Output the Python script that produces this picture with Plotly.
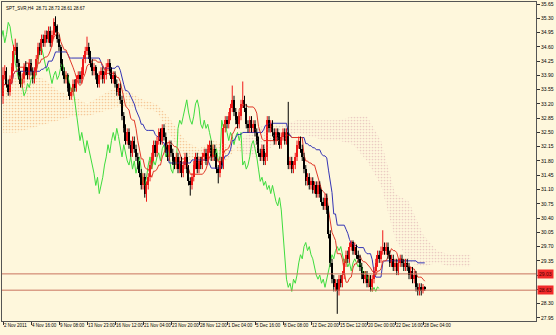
import plotly.graph_objects as go
import pandas as pd

title_text = "SPT_SVR,H4  28.71 28.73 28.61 28.67"
x_labels = ["2 Nov 2011", "4 Nov 16:00", "9 Nov 08:00", "13 Nov 23:00", "16 Nov 12:00",
            "21 Nov 04:00", "23 Nov 20:00", "28 Nov 12:00", "1 Dec 04:00", "5 Dec 16:00",
            "8 Dec 08:00", "12 Dec 20:00", "15 Dec 12:00", "20 Dec 00:00", "22 Dec 16:00",
            "28 Dec 04:00"]
bars_per_label = 16
y_ticks = [27.95, 28.30, 28.65, 29.00, 29.35, 29.70, 30.05, 30.40, 30.75, 31.10, 31.45,
           31.80, 32.15, 32.50, 32.85, 33.20, 33.55, 33.90, 34.25, 34.60, 34.95, 35.30, 35.65]
y_ticktext = ["27.95", "28.30", "", "", "29.35", "29.70", "30.05", "30.40", "30.75", "31.10",
              "31.45", "31.80", "32.15", "32.50", "32.85", "33.20", "33.55", "33.90", "34.25",
              "34.60", "34.95", "35.30", "35.65"]
hline_levels = [29.03, 28.63]

opens = [
    33.40, 33.90, 34.00, 33.70, 33.50, 33.80, 34.10, 34.50, 34.60, 34.20,
    33.90, 33.70, 33.80, 34.10, 34.00, 33.90, 34.20, 34.00, 33.80, 34.00,
    34.30, 34.60, 34.50, 34.80, 34.70, 34.90, 34.80, 35.00, 34.70, 34.90,
    35.20, 35.10, 34.80, 34.60, 34.20, 34.00, 33.80, 33.90, 33.60, 33.40,
    33.50, 33.70, 33.60, 33.80, 33.90, 33.80, 34.00, 34.30, 34.50, 34.60,
    34.40, 34.20, 34.00, 34.10, 33.90, 33.70, 33.90, 34.00, 33.80, 33.90,
    34.10, 34.20, 34.00, 33.80, 33.90, 33.70, 33.50, 33.60, 33.30, 32.90,
    32.60, 32.30, 32.50, 32.20, 32.00, 32.30, 32.10, 31.90, 31.70, 31.50,
    31.20, 31.40, 31.00, 31.20, 31.40, 31.70, 31.90, 32.20, 32.00, 32.30,
    32.50, 32.30, 32.60, 32.40, 32.10, 31.90, 32.20, 32.00, 31.80, 31.70,
    31.90, 31.60, 31.80, 31.50, 31.70, 31.90, 31.60, 31.30, 31.20, 31.40,
    31.70, 31.90, 31.60, 31.80, 31.70, 31.90, 32.00, 31.80, 32.10, 32.20,
    31.90, 32.10, 31.90, 31.60, 31.50, 31.80, 31.70, 32.60, 32.80, 32.70,
    32.90, 33.10, 33.30, 33.00, 32.80, 32.70, 32.90, 33.20, 33.30, 33.10,
    32.70, 32.60, 32.80, 32.60, 32.70, 32.50, 32.30, 32.00, 31.90, 32.10,
    31.80, 31.90, 32.80, 32.60, 32.70, 32.50, 32.30, 32.50, 32.40, 32.20,
    32.40, 32.50, 32.30, 32.50, 31.70, 31.80, 31.60, 31.70, 31.90, 32.20,
    32.30, 32.10, 31.90, 31.60, 31.30, 31.40, 31.20, 31.30, 31.10, 31.20,
    31.00, 31.20, 31.00, 30.80, 30.70, 30.90, 30.60, 30.00, 29.30, 28.90,
    28.70, 28.80, 28.60, 28.90, 28.80, 29.00, 29.30, 29.50, 29.40, 29.70,
    29.80, 29.60, 29.70, 29.50, 29.40, 29.20, 29.00, 28.90, 29.00, 28.80,
    28.90, 28.70, 28.90, 29.10, 29.30, 29.50, 29.40, 29.60, 29.70, 29.60,
    29.70, 29.50, 29.30, 29.40, 29.20, 29.30, 29.10, 29.30, 29.40, 29.30,
    29.20, 29.30, 29.20, 29.00, 29.10, 28.90, 29.00, 28.70, 28.60, 28.70,
    28.60, 28.71]
highs = [
    34.10, 34.15, 34.10, 33.80, 33.90, 34.20, 34.65, 34.80, 34.70, 34.30,
    34.00, 33.95, 34.20, 34.25, 34.10, 34.30, 34.30, 34.10, 34.10, 34.40,
    34.70, 34.70, 34.90, 34.90, 35.00, 35.00, 35.10, 35.10, 35.00, 35.30,
    35.35, 35.15, 34.90, 34.65, 34.30, 34.10, 34.00, 33.95, 33.70, 33.60,
    33.80, 33.80, 33.90, 34.00, 34.00, 34.10, 34.40, 34.60, 34.85, 34.70,
    34.50, 34.30, 34.20, 34.15, 33.95, 34.00, 34.10, 34.10, 34.00, 34.20,
    34.30, 34.30, 34.10, 34.00, 34.00, 33.80, 33.70, 33.70, 33.40, 33.00,
    32.70, 32.60, 32.60, 32.30, 32.40, 32.40, 32.20, 32.00, 31.80, 31.60,
    31.50, 31.50, 31.30, 31.50, 31.80, 32.00, 32.30, 32.30, 32.40, 32.60,
    32.60, 32.70, 32.70, 32.50, 32.20, 32.30, 32.30, 32.10, 31.90, 32.00,
    32.00, 31.90, 31.90, 31.80, 32.00, 32.00, 31.70, 31.40, 31.50, 31.80,
    32.00, 32.00, 31.90, 31.90, 32.00, 32.10, 32.10, 32.20, 32.30, 32.30,
    32.20, 32.20, 32.00, 31.70, 31.90, 31.90, 32.70, 32.90, 32.90, 33.00,
    33.20, 33.65, 33.40, 33.10, 32.90, 33.00, 33.30, 33.75, 33.40, 33.20,
    32.80, 32.90, 32.90, 32.80, 32.80, 32.60, 32.40, 32.10, 32.20, 32.20,
    32.00, 32.90, 32.90, 32.80, 32.80, 32.60, 32.60, 32.60, 32.50, 32.50,
    32.60, 32.60, 32.60, 33.25, 31.90, 31.90, 31.80, 32.00, 32.30, 32.40,
    32.40, 32.20, 32.00, 31.70, 31.50, 31.50, 31.40, 31.40, 31.30, 31.30,
    31.30, 31.30, 31.10, 30.90, 31.00, 31.00, 30.70, 30.10, 29.40, 29.00,
    28.90, 28.90, 29.00, 29.00, 29.10, 29.40, 29.60, 29.60, 29.80, 29.85,
    29.85, 29.80, 29.75, 29.60, 29.50, 29.30, 29.10, 29.10, 29.10, 29.00,
    29.00, 29.00, 29.20, 29.40, 29.60, 29.60, 29.70, 30.10, 29.80, 29.80,
    29.80, 29.60, 29.50, 29.50, 29.40, 29.40, 29.40, 29.50, 29.50, 29.40,
    29.40, 29.40, 29.30, 29.20, 29.20, 29.10, 29.10, 28.80, 28.80, 28.80,
    28.78, 28.73]
lows = [
    33.20, 33.80, 33.60, 33.40, 33.40, 33.70, 34.00, 34.40, 34.10, 33.80,
    33.60, 33.60, 33.70, 33.90, 33.80, 33.80, 33.90, 33.70, 33.70, 33.90,
    34.20, 34.40, 34.40, 34.60, 34.60, 34.70, 34.70, 34.60, 34.60, 34.80,
    34.95, 34.70, 34.50, 34.10, 33.90, 33.70, 33.70, 33.50, 33.30, 33.30,
    33.40, 33.50, 33.50, 33.70, 33.70, 33.70, 33.90, 34.20, 34.40, 34.30,
    34.10, 33.90, 33.90, 33.80, 33.60, 33.60, 33.80, 33.70, 33.70, 33.80,
    34.00, 33.90, 33.70, 33.70, 33.60, 33.40, 33.40, 33.20, 32.80, 32.50,
    32.20, 32.20, 32.10, 31.90, 31.90, 32.00, 31.80, 31.60, 31.40, 31.10,
    31.10, 30.90, 30.80, 31.10, 31.30, 31.60, 31.80, 31.90, 31.90, 32.20,
    32.20, 32.20, 32.30, 32.00, 31.80, 31.80, 31.90, 31.70, 31.60, 31.60,
    31.50, 31.50, 31.40, 31.40, 31.60, 31.50, 31.20, 30.95, 31.10, 31.30,
    31.60, 31.50, 31.50, 31.60, 31.60, 31.80, 31.70, 31.70, 32.00, 31.80,
    31.80, 31.80, 31.50, 31.25, 31.40, 31.60, 31.60, 32.50, 32.60, 32.60,
    32.80, 33.00, 32.90, 32.70, 32.60, 32.60, 32.80, 33.10, 33.00, 32.60,
    32.50, 32.50, 32.50, 32.50, 32.40, 32.20, 31.90, 31.80, 31.80, 31.70,
    31.70, 31.80, 32.50, 32.50, 32.40, 32.20, 32.20, 32.30, 32.10, 32.10,
    32.30, 32.20, 32.20, 31.60, 31.60, 31.50, 31.50, 31.60, 31.80, 32.10,
    32.00, 31.80, 31.50, 31.20, 31.20, 31.10, 31.10, 31.00, 31.00, 30.90,
    30.90, 30.90, 30.70, 30.60, 30.60, 30.50, 29.90, 29.20, 28.80, 28.60,
    28.60, 28.05, 28.50, 28.70, 28.70, 28.90, 29.20, 29.30, 29.30, 29.60,
    29.50, 29.50, 29.40, 29.30, 29.10, 28.90, 28.80, 28.80, 28.70, 28.70,
    28.60, 28.60, 28.80, 29.00, 29.20, 29.30, 29.30, 29.50, 29.50, 29.50,
    29.40, 29.20, 29.20, 29.10, 29.10, 29.00, 29.00, 29.20, 29.20, 29.10,
    29.10, 29.10, 28.90, 28.90, 28.80, 28.80, 28.60, 28.50, 28.50, 28.50,
    28.55, 28.61]
closes = [
    33.90, 34.00, 33.70, 33.50, 33.80, 34.10, 34.50, 34.60, 34.20, 33.90,
    33.70, 33.80, 34.10, 34.00, 33.90, 34.20, 34.00, 33.80, 34.00, 34.30,
    34.60, 34.50, 34.80, 34.70, 34.90, 34.80, 35.00, 34.70, 34.90, 35.20,
    35.10, 34.80, 34.60, 34.20, 34.00, 33.80, 33.90, 33.60, 33.40, 33.50,
    33.70, 33.60, 33.80, 33.90, 33.80, 34.00, 34.30, 34.50, 34.60, 34.40,
    34.20, 34.00, 34.10, 33.90, 33.70, 33.90, 34.00, 33.80, 33.90, 34.10,
    34.20, 34.00, 33.80, 33.90, 33.70, 33.50, 33.60, 33.30, 32.90, 32.60,
    32.30, 32.50, 32.20, 32.00, 32.30, 32.10, 31.90, 31.70, 31.50, 31.20,
    31.40, 31.00, 31.20, 31.40, 31.70, 31.90, 32.20, 32.00, 32.30, 32.50,
    32.30, 32.60, 32.40, 32.10, 31.90, 32.20, 32.00, 31.80, 31.70, 31.90,
    31.60, 31.80, 31.50, 31.70, 31.90, 31.60, 31.30, 31.20, 31.40, 31.70,
    31.90, 31.60, 31.80, 31.70, 31.90, 32.00, 31.80, 32.10, 32.20, 31.90,
    32.10, 31.90, 31.60, 31.50, 31.80, 31.70, 32.60, 32.80, 32.70, 32.90,
    33.10, 33.30, 33.00, 32.80, 32.70, 32.90, 33.20, 33.30, 33.10, 32.70,
    32.60, 32.80, 32.60, 32.70, 32.50, 32.30, 32.00, 31.90, 32.10, 31.80,
    31.90, 32.80, 32.60, 32.70, 32.50, 32.30, 32.50, 32.40, 32.20, 32.40,
    32.50, 32.30, 32.50, 31.70, 31.80, 31.60, 31.70, 31.90, 32.20, 32.30,
    32.10, 31.90, 31.60, 31.30, 31.40, 31.20, 31.30, 31.10, 31.20, 31.00,
    31.20, 31.00, 30.80, 30.70, 30.90, 30.60, 30.00, 29.30, 28.90, 28.70,
    28.80, 28.60, 28.90, 28.80, 29.00, 29.30, 29.50, 29.40, 29.70, 29.80,
    29.60, 29.70, 29.50, 29.40, 29.20, 29.00, 28.90, 29.00, 28.80, 28.90,
    28.70, 28.90, 29.10, 29.30, 29.50, 29.40, 29.60, 29.70, 29.60, 29.70,
    29.50, 29.30, 29.40, 29.20, 29.30, 29.10, 29.30, 29.40, 29.30, 29.20,
    29.30, 29.20, 29.00, 29.10, 28.90, 29.00, 28.70, 28.60, 28.70, 28.60,
    28.71, 28.67]

# Ichimoku cloud boundaries (bar positions, shifted 26 ahead)
kumo_bars = [0, 8, 16, 24, 32, 40, 48, 56, 64, 72, 80, 88, 96, 104, 112, 120, 128,
             136, 144, 152, 160, 168, 176, 184, 192, 200, 208, 216, 224, 232, 240,
             248, 256, 264, 267]
span_a = [33.80, 33.90, 33.90, 33.80, 33.50, 33.40, 33.20, 33.40, 33.60, 33.50, 33.30,
          33.20, 32.80, 32.30, 32.10, 32.30, 32.20, 32.00, 31.90, 32.10, 32.30, 32.50,
          32.40, 32.30, 32.30, 32.20, 31.80, 31.20, 29.90, 29.30, 29.20, 29.30, 29.20,
          29.20, 29.20]
span_b = [32.50, 32.50, 32.60, 32.70, 32.80, 32.90, 32.90, 33.00, 33.10, 33.10, 33.10,
          33.00, 32.40, 31.90, 31.70, 31.80, 31.80, 32.30, 32.60, 32.70, 32.70, 32.80,
          32.80, 32.80, 32.80, 32.90, 32.90, 32.30, 31.00, 30.80, 30.00, 29.60, 29.50,
          29.50, 29.50]

tenkan_period, kijun_period, shift = 9, 26, 26
n = len(closes)
idx = list(range(n))
df = pd.DataFrame({"o": opens, "h": highs, "l": lows, "c": closes})
tenkan = (df.h.rolling(tenkan_period, min_periods=1).max() + df.l.rolling(tenkan_period, min_periods=1).min()) / 2
kijun = (df.h.rolling(kijun_period, min_periods=1).max() + df.l.rolling(kijun_period, min_periods=1).min()) / 2

BG = "#FEF7DC"
UP = "#F01818"
DN = "#000000"
FONT = "Arial"

fig = go.Figure()

# cloud segments coloured by which span is on top
segs = []
cur = [0]
for k in range(1, len(kumo_bars)):
    s_prev = span_a[k - 1] >= span_b[k - 1]
    s_now = span_a[k] >= span_b[k]
    cur.append(k)
    if s_now != s_prev:
        segs.append(cur)
        cur = [k]
segs.append(cur)
for seg in segs:
    up = sum(span_a[k] - span_b[k] for k in seg) >= 0
    col = "#EE9A55" if up else "#D8A0A8"
    xs = [kumo_bars[k] for k in seg]
    fig.add_trace(go.Scatter(x=xs, y=[span_b[k] for k in seg], mode="lines",
                             line=dict(width=0), hoverinfo="skip", showlegend=False))
    fig.add_trace(go.Scatter(x=xs, y=[span_a[k] for k in seg], mode="lines",
                             line=dict(width=0), fill="tonexty", fillcolor="rgba(0,0,0,0)",
                             fillpattern=dict(shape=".", fgcolor=col, bgcolor="rgba(0,0,0,0)",
                                              size=3, solidity=0.25),
                             hoverinfo="skip", showlegend=False))

# chikou span
fig.add_trace(go.Scatter(x=[i - shift for i in idx], y=closes, mode="lines",
                         line=dict(color="#3EDC3E", width=1), showlegend=False))
# kijun
fig.add_trace(go.Scatter(x=idx, y=kijun, mode="lines", line=dict(color="#3535B5", width=1),
                         showlegend=False))
# tenkan
fig.add_trace(go.Scatter(x=idx, y=tenkan, mode="lines", line=dict(color="#E03A2A", width=1),
                         showlegend=False))

# wicks
for color, cond in ((UP, lambda i: closes[i] >= opens[i]), (DN, lambda i: closes[i] < opens[i])):
    xs, ys = [], []
    for i in idx:
        if cond(i):
            xs += [i, i, None]
            ys += [lows[i], highs[i], None]
    fig.add_trace(go.Scatter(x=xs, y=ys, mode="lines", line=dict(color=color, width=1),
                             hoverinfo="skip", showlegend=False))

# bodies
fig.add_trace(go.Bar(x=idx, base=[min(o, c) for o, c in zip(opens, closes)],
                     y=[max(abs(c - o), 0.02) for o, c in zip(opens, closes)],
                     width=0.8,
                     marker=dict(color=[UP if c >= o else DN for o, c in zip(opens, closes)],
                                 line=dict(width=0)),
                     showlegend=False))

# horizontal lines + price labels
for lvl in hline_levels:
    fig.add_shape(type="line", xref="paper", x0=0, x1=1, yref="y", y0=lvl, y1=lvl,
                  line=dict(color="#C8735E", width=1), layer="above")
    fig.add_annotation(xref="paper", x=1, xanchor="left", xshift=1, yref="y", y=lvl,
                       text=f"{lvl:.2f}", showarrow=False, bgcolor="#F22A2A",
                       font=dict(size=5, color="#4A0000", family=FONT), borderpad=1)

fig.add_annotation(xref="paper", yref="paper", x=0.004, y=0.995, xanchor="left", yanchor="top",
                   text=title_text, showarrow=False,
                   font=dict(size=4.5, color="#000000", family=FONT))

fig.update_layout(
    width=556, height=335,
    margin=dict(l=2, r=20, t=2, b=14, autoexpand=False),
    paper_bgcolor=BG, plot_bgcolor=BG,
    bargap=0, barmode="overlay",
    showlegend=False,
    xaxis=dict(range=[-0.57, 304.57], showgrid=False, zeroline=False, automargin=False,
               tickvals=[k * bars_per_label for k in range(len(x_labels))], ticktext=x_labels,
               tickangle=0, ticks="outside", ticklen=3, tickcolor="#333333",
               ticklabelposition="outside right",
               tickfont=dict(size=4.5, color="#000000", family=FONT),
               showline=True, linecolor="#555555", linewidth=1, mirror=True),
    yaxis=dict(range=[27.874, 35.70], side="right", showgrid=False, zeroline=False,
               automargin=False,
               tickvals=y_ticks, ticktext=y_ticktext,
               ticks="outside", ticklen=3, tickcolor="#333333",
               tickfont=dict(size=5, color="#000000", family=FONT),
               showline=True, linecolor="#555555", linewidth=1, mirror=True),
)

fig.write_html("out.html")
